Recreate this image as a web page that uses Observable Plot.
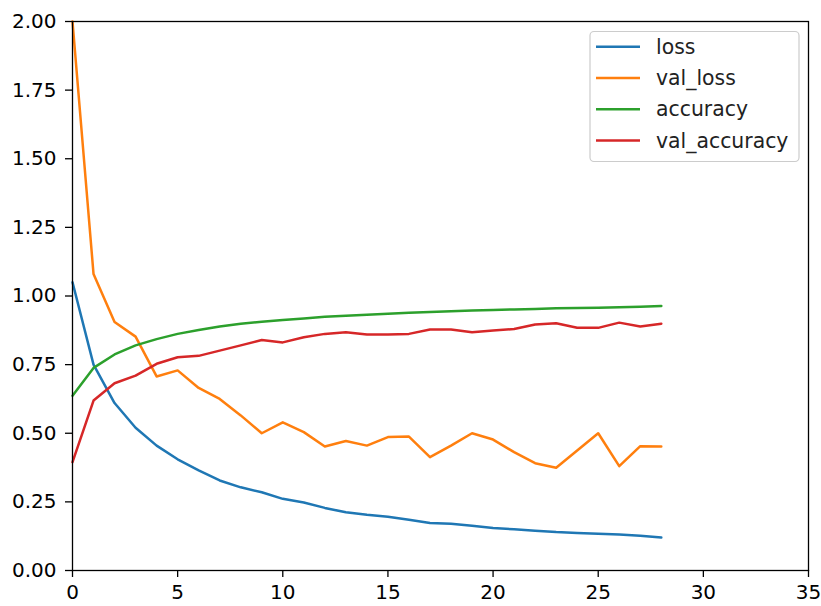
<!DOCTYPE html>
<html>
<head>
<meta charset="utf-8">
<script src="https://cdn.jsdelivr.net/npm/d3@7"></script>
<script src="https://cdn.jsdelivr.net/npm/@observablehq/plot@0.6"></script>
<style>
  html, body { margin: 0; padding: 0; background: #fff; }
  #chart svg { display: block; }
</style>
</head>
<body>
<div id="chart"></div>
<script>
const epochs = [0,1,2,3,4,5,6,7,8,9,10,11,12,13,14,15,16,17,18,19,20,21,22,23,24,25,26,27,28];
const loss = [1.05,0.75,0.61,0.52,0.455,0.405,0.365,0.328,0.303,0.285,0.261,0.248,0.228,0.212,0.203,0.196,0.185,0.173,0.170,0.163,0.155,0.150,0.145,0.140,0.137,0.134,0.131,0.127,0.12];
const valLoss = [2.0,1.08,0.905,0.852,0.707,0.729,0.665,0.625,0.565,0.50,0.54,0.504,0.452,0.472,0.455,0.486,0.488,0.413,0.455,0.50,0.477,0.431,0.391,0.374,0.437,0.50,0.38,0.453,0.452];
const accuracy = [0.637,0.738,0.787,0.82,0.843,0.862,0.876,0.889,0.899,0.906,0.913,0.918,0.924,0.928,0.932,0.935,0.939,0.942,0.944,0.947,0.949,0.951,0.953,0.955,0.956,0.957,0.959,0.961,0.964];
const valAccuracy = [0.395,0.619,0.682,0.71,0.753,0.777,0.782,0.801,0.82,0.84,0.831,0.85,0.862,0.868,0.86,0.86,0.862,0.878,0.878,0.868,0.874,0.88,0.896,0.901,0.884,0.884,0.903,0.889,0.899];

const seriesNames = ["loss", "val_loss", "accuracy", "val_accuracy"];
const seriesColors = ["#1f77b4", "#ff7f0e", "#2ca02c", "#d62728"];
const seriesValues = [loss, valLoss, accuracy, valAccuracy];
const xTicks = [0,5,10,15,20,25,30,35];
const yTicks = [0,0.25,0.5,0.75,1.0,1.25,1.5,1.75,2.0];

const rows = [];
seriesNames.forEach((name, i) => {
  epochs.forEach((e, j) => rows.push({series: name, epoch: e, value: seriesValues[i][j]}));
});

const fontSize = 20;
const legendFont = 20.4;
const chart = Plot.plot({
  width: 821,
  height: 606,
  marginLeft: 72,
  marginRight: 13,
  marginTop: 21,
  marginBottom: 36,
  style: {fontFamily: "DejaVu Sans, sans-serif", fontSize: fontSize + "px", color: "black", background: "white"},
  x: {domain: [0, 35]},
  y: {domain: [0, 2]},
  color: {domain: seriesNames, range: seriesColors},
  marks: [
    Plot.line(rows, {x: "epoch", y: "value", z: "series", stroke: "series", strokeWidth: 2.5, strokeLinejoin: "round"}),
    Plot.frame({stroke: "black", strokeWidth: 1.3, strokeOpacity: 1}),
    Plot.axisX({ticks: xTicks, tickSize: 7, tickPadding: 7, tickFormat: d => String(d), label: null, fontSize: fontSize, strokeWidth: 1.3}),
    Plot.axisY({ticks: yTicks, tickSize: 7, tickPadding: 9, tickFormat: d3.format(".2f"), label: null, fontSize: fontSize, strokeWidth: 1.3})
  ]
});

// legend (matplotlib-style, upper right)
const svg = d3.select(chart);
const lg = svg.append("g").attr("font-family", "DejaVu Sans, sans-serif").attr("font-size", legendFont).attr("text-anchor", "start");
lg.append("rect").attr("x", 590).attr("y", 31.5).attr("width", 209).attr("height", 130)
  .attr("rx", 4).attr("fill", "white").attr("fill-opacity", 0.8).attr("stroke", "#cccccc").attr("stroke-width", 1.2);
seriesNames.forEach((name, i) => {
  const yy = 46.7 + i * 31.3;
  lg.append("line").attr("x1", 596).attr("x2", 640).attr("y1", yy).attr("y2", yy)
    .attr("stroke", seriesColors[i]).attr("stroke-width", 2.5);
  lg.append("text").attr("x", 656).attr("y", yy).attr("dy", "0.35em").attr("text-anchor", "start").attr("fill", "#222").text(name);
});

document.getElementById("chart").appendChild(chart);
</script>
</body>
</html>
